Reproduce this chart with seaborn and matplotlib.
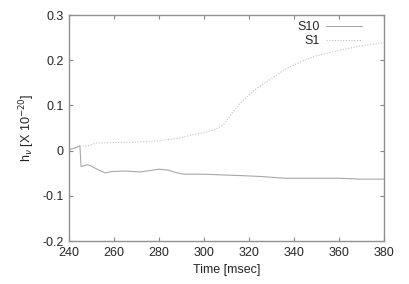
import matplotlib
matplotlib.use("Agg")
import matplotlib.pyplot as plt
import seaborn as sns
import pandas as pd

# S10 (solid) and S1 (dotted) waveforms
t_s10 = [240, 242, 244.8, 245.3, 246, 248, 249.5, 252, 256, 259, 265, 271.5, 276, 280, 284, 288, 291, 300,
         310, 316, 325, 336, 345, 360, 370, 380]
h_s10 = [0.003, 0.005, 0.011, -0.035, -0.034, -0.031, -0.033, -0.040, -0.049, -0.046, -0.045, -0.047, -0.044,
         -0.041, -0.043, -0.049, -0.052, -0.052, -0.054, -0.055, -0.057, -0.061, -0.061, -0.061, -0.063, -0.063]
t_s1 = [240, 243, 245, 248, 252, 260, 270, 280, 289, 295, 300, 305, 308.5, 312, 316, 322, 329, 336, 343,
        350, 360, 370, 380]
h_s1 = [0.003, 0.006, 0.010, 0.010, 0.017, 0.018, 0.019, 0.022, 0.028, 0.035, 0.040, 0.047, 0.057, 0.080,
        0.105, 0.133, 0.156, 0.180, 0.197, 0.210, 0.222, 0.232, 0.239]

df = pd.concat([
    pd.DataFrame({"time": t_s10, "h": h_s10, "run": "S10"}),
    pd.DataFrame({"time": t_s1, "h": h_s1, "run": "S1"}),
])

sns.set_style("ticks")
plt.rcParams["font.family"] = ["Liberation Sans", "DejaVu Sans"]

fig = plt.figure(figsize=(4.09, 2.84), dpi=100)
ax = fig.add_axes([0.169, 0.151, 0.770, 0.796])

sns.lineplot(data=df, x="time", y="h", hue="run", style="run",
             palette={"S10": "#a8a8a8", "S1": "#c0c0c0"},
             dashes={"S10": "", "S1": (1, 1.5)}, linewidth=0.8, ax=ax)

ax.set_xlim(240, 380)
ax.set_ylim(-0.2, 0.3)
ax.set_xticks(range(240, 381, 20))
ax.set_yticks([-0.2, -0.1, 0, 0.1, 0.2, 0.3])
ax.set_yticklabels(["-0.2", "-0.1", "0", "0.1", "0.2", "0.3"])
ax.tick_params(direction="in", length=3, top=True, right=True, labelsize=9,
               color="#888888", pad=4)
for s in ax.spines.values():
    s.set_color("#909090")
    s.set_linewidth(1.0)

ax.set_xlabel("Time [msec]", fontsize=9)
ax.set_ylabel(r"h$_\nu$ [X 10$^{-20}$]", fontsize=9)

leg = ax.legend(loc="upper right", bbox_to_anchor=(0.955, 1.005), frameon=False,
                markerfirst=False, fontsize=9, handlelength=2.9, borderaxespad=0.2,
                labelspacing=0.15, handletextpad=0.5, title=None)

fig.savefig("out.png", dpi=100)
